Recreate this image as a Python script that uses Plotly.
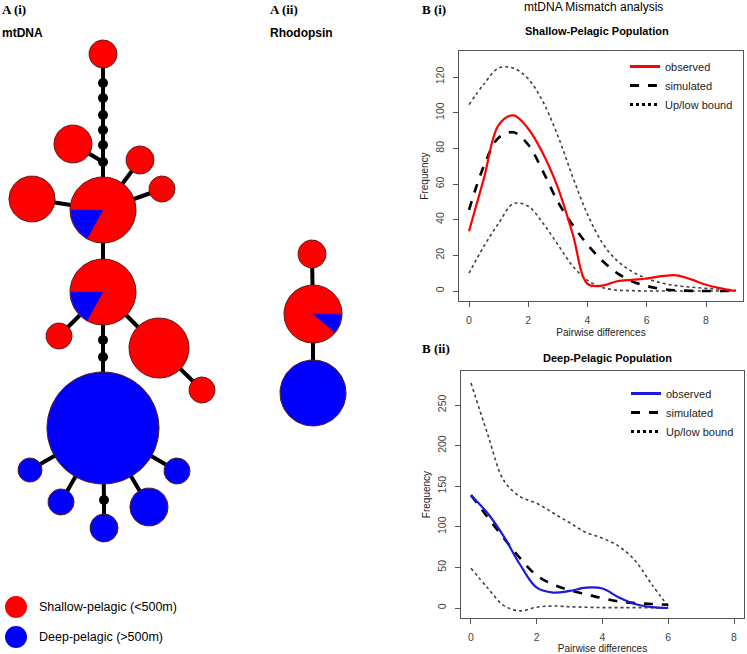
import numpy as np
import plotly.graph_objects as go

# ---------------- DATA ----------------
# Mismatch distribution, shallow-pelagic population (B i)
x_shallow = [0, 0.5, 1, 1.5, 2, 2.5, 3, 3.5, 4, 4.5, 5, 5.5, 6, 6.5, 7, 7.5, 8, 8.5, 9]
obs_shallow = [33.5, 63, 93, 98.5, 91, 77, 58, 32, 4, 3, 5.5, 6.3, 7, 8.3, 8.8, 6.5, 3.5, 1.5, 0]
sim_shallow = [45.5, 70, 86, 89, 82, 67, 50, 37, 26, 17, 10, 5.5, 2.8, 1.2, 0.4, 0.1, 0, 0, 0]
up_shallow = [104.5, 116, 125, 125, 119, 106, 87, 64, 43, 27, 17, 11, 7, 4.5, 3, 2.2, 1.5, 1, 0.5]
low_shallow = [10, 25, 38, 49, 47.5, 38, 26, 14, 6, 2, 0.5, 0.2, 0, 0, 0, 0, 0, 0, 0]

# Mismatch distribution, deep-pelagic population (B ii)
x_deep = [0, 0.5, 1, 1.5, 2, 2.5, 3, 3.5, 4, 4.5, 5, 5.5, 6]
obs_deep = [139, 117, 88, 53, 25, 19, 21, 25, 24, 13, 5, 1.2, 0]
sim_deep = [139, 112, 86, 61, 40, 29, 22, 17, 12, 8, 6, 5, 4]
up_deep = [277, 215, 157, 137, 129, 117, 105, 93, 86, 76, 58, 29, 2]
low_deep = [49, 25, 3, -3.5, 1, 2.5, 1.5, 1, 0.5, 0.5, 0.5, 0.3, 0]

x_ticks = [0, 2, 4, 6, 8]
y_ticks_shallow = [0, 20, 40, 60, 80, 100, 120]
y_ticks_deep = [0, 50, 100, 150, 200, 250]

# Haplotype networks: node kind, radius (proportional to frequency), deep fraction
# mtDNA
mt_kind = ["hap", "med", "med", "med", "med", "med", "med", "hap", "hap", "hap", "hap", "hap",
           "hap", "hap", "hap", "hap", "med", "med", "hap", "hap", "hap", "hap", "med", "hap", "hap"]
mt_radius = [14, 5, 5, 5, 5, 5, 5, 33, 19, 14, 13, 23,
             33, 13, 30, 13, 5, 5, 56, 12, 13, 13, 5, 14, 19]
mt_deep_frac = [0, 0, 0, 0, 0, 0, 0, 0.17, 0, 0, 0, 0,
                0.17, 0, 0, 0, 0, 0, 1, 1, 1, 1, 0, 1, 1]
# layout of the network drawing (pixel positions)
mt_pos_x = [103, 103, 103, 103, 103, 103, 103, 103, 73, 140, 162, 32,
            103, 59, 159, 202, 103, 103, 103, 30, 177, 61, 104, 104, 149]
mt_pos_y = [54, 83, 98, 115, 130, 145, 162, 210, 144, 160, 189, 199,
            292, 336, 348, 390, 340, 357, 428, 470, 471, 502, 500, 528, 507]
mt_edges = [(0, 1), (1, 2), (2, 3), (3, 4), (4, 5), (5, 6), (6, 7), (8, 6), (9, 7), (10, 7), (11, 7),
            (7, 12), (13, 12), (14, 12), (15, 14), (12, 16), (16, 17), (17, 18),
            (19, 18), (20, 18), (21, 18), (22, 18), (22, 23), (24, 18)]

# Rhodopsin
rh_radius = [14, 29, 33]
rh_deep_frac = [0, 0.11, 1]
rh_pos_x = [312, 313, 313]
rh_pos_y = [254, 314, 393]
rh_edges = [(0, 1), (1, 2)]

RED = "#ff0000"
BLUE = "#0000ff"
W, H = 747, 654

fig = go.Figure()


def wedge(cx, cy, r, a0, a1, n=40):
    t = np.radians(np.linspace(a0, a1, n))
    xs = [cx] + list(cx + r * np.cos(t)) + [cx]
    ys = [cy] + list(cy - r * np.sin(t)) + [cy]
    return xs, ys


def draw_network(px, py, rad, kind, frac, edges, wedge_start):
    ex, ey = [], []
    for a, b in edges:
        ex += [px[a], px[b], None]
        ey += [py[a], py[b], None]
    fig.add_trace(go.Scatter(x=ex, y=ey, mode="lines", line=dict(color="black", width=4),
                             showlegend=False, hoverinfo="skip", xaxis="x", yaxis="y"))
    for i in range(len(px)):
        if kind[i] == "med":
            fig.add_trace(go.Scatter(x=[px[i]], y=[py[i]], mode="markers",
                                     marker=dict(size=2 * rad[i], color="black"),
                                     showlegend=False, hoverinfo="skip", xaxis="x", yaxis="y"))
            continue
        base = BLUE if frac[i] >= 1 else RED
        cx, cy, r = px[i], py[i], rad[i]
        xs, ys = wedge(cx, cy, r, 0, 360, 90)
        fig.add_trace(go.Scatter(x=xs[1:-1], y=ys[1:-1], mode="lines", fill="toself",
                                 fillcolor=base, line=dict(color="#5a1a1a", width=1),
                                 showlegend=False, hoverinfo="skip", xaxis="x", yaxis="y"))
        if 0 < frac[i] < 1:
            a0 = wedge_start
            a1 = wedge_start + 360 * frac[i]
            wx, wy = wedge(cx, cy, r - 0.6, a0, a1)
            fig.add_trace(go.Scatter(x=wx, y=wy, mode="lines", fill="toself",
                                     fillcolor=BLUE, line=dict(color="#3a10d0", width=0.8),
                                     showlegend=False, hoverinfo="skip", xaxis="x", yaxis="y"))


draw_network(mt_pos_x, mt_pos_y, mt_radius, mt_kind, mt_deep_frac, mt_edges, 180)
draw_network(rh_pos_x, rh_pos_y, rh_radius, ["hap"] * 3, rh_deep_frac, rh_edges, -40)

# network legend
fig.add_trace(go.Scatter(x=[16, 16], y=[607, 637], mode="markers",
                         marker=dict(size=22, color=[RED, BLUE]),
                         showlegend=False, hoverinfo="skip", xaxis="x", yaxis="y"))


# ---------------- mismatch panels ----------------
def panel(xv, obs, sim, up, low, col, xa, ya, leg):
    fig.add_trace(go.Scatter(x=xv, y=up, mode="lines", line=dict(color="#404040", width=1.6, dash="dot", shape="spline"),
                             showlegend=False, xaxis=xa, yaxis=ya))
    fig.add_trace(go.Scatter(x=xv, y=low, mode="lines", line=dict(color="#404040", width=1.6, dash="dot", shape="spline"),
                             showlegend=False, xaxis=xa, yaxis=ya))
    fig.add_trace(go.Scatter(x=xv, y=sim, mode="lines", line=dict(color="black", width=2.6, dash="dash", shape="spline"),
                             showlegend=False, xaxis=xa, yaxis=ya))
    fig.add_trace(go.Scatter(x=xv, y=obs, mode="lines", line=dict(color=col, width=2.2, shape="spline"),
                             showlegend=False, xaxis=xa, yaxis=ya))
    fig.add_trace(go.Scatter(x=[None], y=[None], mode="lines", name="observed",
                             line=dict(color=col, width=3), legend=leg, xaxis=xa, yaxis=ya))
    fig.add_trace(go.Scatter(x=[None], y=[None], mode="lines", name="simulated",
                             line=dict(color="black", width=3, dash="dash"), legend=leg, xaxis=xa, yaxis=ya))
    fig.add_trace(go.Scatter(x=[None], y=[None], mode="lines", name="Up/low bound",
                             line=dict(color="black", width=3, dash="dot"), legend=leg, xaxis=xa, yaxis=ya))


panel(x_shallow, obs_shallow, sim_shallow, up_shallow, low_shallow, RED, "x2", "y2", "legend")
panel(x_deep, obs_deep, sim_deep, up_deep, low_deep, "#1a1adc", "x3", "y3", "legend2")

tickfont = dict(family="Liberation Sans", size=10.5, color="#444")
titlefont = dict(family="Liberation Sans", size=10, color="#222")


def px2x(p):
    return p / W


def px2y(p):
    return 1 - p / H


common_x = dict(showgrid=False, zeroline=False, showline=True, mirror=True, linecolor="#555", linewidth=1,
                ticks="outside", ticklen=5, tickcolor="#555", tickfont=tickfont, tickvals=x_ticks,
                ticklabelstandoff=4,
                title=dict(text="Pairwise differences", font=titlefont, standoff=4))
common_y = dict(showgrid=False, zeroline=False, showline=True, mirror=True, linecolor="#555", linewidth=1,
                ticks="outside", ticklen=5, tickcolor="#555", tickfont=tickfont, tickangle=-90,
                ticklabelstandoff=5,
                title=dict(text="Frequency", font=titlefont, standoff=3))

fig.update_layout(
    width=W, height=H, margin=dict(l=0, r=0, t=0, b=0),
    paper_bgcolor="white", plot_bgcolor="rgba(0,0,0,0)",
    xaxis=dict(domain=[0, 1], range=[0, W], visible=False, fixedrange=True),
    yaxis=dict(domain=[0, 1], range=[H, 0], visible=False, fixedrange=True),
    xaxis2=dict(domain=[px2x(459), px2x(743)], range=[-0.338, 9.249], anchor="y2", **common_x),
    yaxis2=dict(domain=[px2y(301), px2y(51)], range=[-5.6, 134.6], anchor="x2", tickvals=y_ticks_shallow, **common_y),
    xaxis3=dict(domain=[px2x(461), px2x(744)], range=[-0.304, 8.304], anchor="y3", **common_x),
    yaxis3=dict(domain=[px2y(618), px2y(371)], range=[-12.3, 291.9], anchor="x3", tickvals=y_ticks_deep, **common_y),
    legend=dict(x=px2x(625), y=px2y(52), xanchor="left", yanchor="top", bgcolor="rgba(0,0,0,0)",
                font=dict(family="Liberation Sans", size=11, color="#222"), itemwidth=30, tracegroupgap=0),
    legend2=dict(x=px2x(626), y=px2y(379), xanchor="left", yanchor="top", bgcolor="rgba(0,0,0,0)",
                 font=dict(family="Liberation Sans", size=11, color="#222"), itemwidth=30, tracegroupgap=0),
)

ann = [
    ("A (i)", 0, 9, "left", dict(family="Liberation Serif", size=13, color="black"), True),
    ("mtDNA", 0, 33, "left", dict(family="Liberation Sans", size=12, color="black"), True),
    ("A (ii)", 268, 9, "left", dict(family="Liberation Serif", size=13, color="black"), True),
    ("Rhodopsin", 268, 33, "left", dict(family="Liberation Sans", size=12, color="black"), True),
    ("B (i)", 420, 9, "left", dict(family="Liberation Serif", size=13, color="black"), True),
    ("mtDNA Mismatch analysis", 593, 7, "center", dict(family="Liberation Sans", size=12, color="black"), False),
    ("Shallow-Pelagic Population", 597, 31, "center", dict(family="Liberation Sans", size=11, color="black"), True),
    ("B (ii)", 420, 348, "left", dict(family="Liberation Serif", size=13, color="black"), True),
    ("Deep-Pelagic Population", 607, 358, "center", dict(family="Liberation Sans", size=11, color="black"), True),
    ("Shallow-pelagic (<500m)", 37, 607, "left", dict(family="Liberation Sans", size=12.5, color="black"), False),
    ("Deep-pelagic (>500m)", 37, 637, "left", dict(family="Liberation Sans", size=12.5, color="black"), False),
]
for text, x, y, xa, f, bold in ann:
    fig.add_annotation(x=x, y=y, xref="x", yref="y", text=f"<b>{text}</b>" if bold else text,
                       showarrow=False, xanchor=xa, yanchor="middle", font=f)

fig.write_html("out.html", config={"displayModeBar": False},
               post_script="document.body.style.margin='0';document.body.style.padding='0';"
                           "document.body.style.overflow='hidden';")
